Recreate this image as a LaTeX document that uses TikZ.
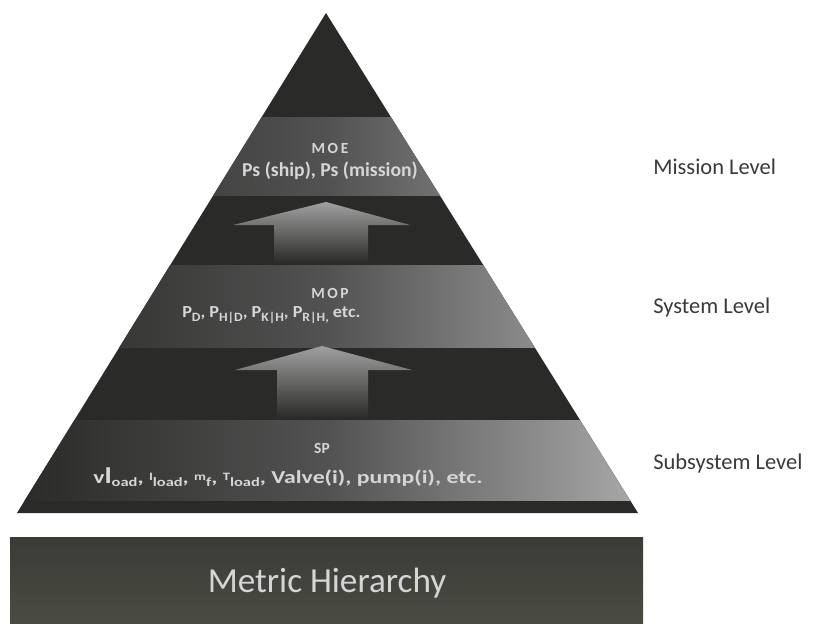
\documentclass[tikz,border=0pt]{standalone}
\usepackage{fontspec}
\setmainfont{Carlito}
\usepackage{tikz}
\usetikzlibrary{positioning, calc}

\definecolor{pyrdark}{HTML}{2A2A28}
\definecolor{bandlight}{HTML}{A8A8A8}
\definecolor{bandmid}{HTML}{525252}
\definecolor{arrowtop}{HTML}{A0A0A0}
\definecolor{boxdark}{HTML}{3A3B35}
\definecolor{boxlight}{HTML}{4A4C44}
\definecolor{inktext}{HTML}{D6D6D6}
\definecolor{leveltext}{HTML}{3A3A3A}

\tikzset{
  bandtext/.style={text=inktext, inner sep=0pt, font=\bfseries},
  leveltag/.style={text=leveltext, anchor=west, inner sep=0pt, font=\fontsize{16}{18}\selectfont},
  band/.style={left color=pyrdark, right color=bandlight, middle color=bandmid},
  uparrow/.style={top color=arrowtop, bottom color=pyrdark, draw=none}
}
\newcommand{\lowsub}[1]{\raisebox{-2.5pt}{\fontsize{9}{9}\selectfont #1}}
\newcommand{\tinyup}[1]{\raisebox{1.5pt}{\fontsize{8}{8}\selectfont #1}}

\begin{document}
\begin{tikzpicture}[x=0.025cm, y=-0.025cm]
\useasboundingbox[fill=white] (0,0) rectangle (824,624);

% Pyramid
\coordinate (apex) at (326,13);
\coordinate (baseL) at (17,513);
\coordinate (baseR) at (638,513);
\fill[pyrdark] (apex) -- (baseR) -- (baseL) -- cycle;

% Bands
\begin{scope}
\clip (apex) -- (baseR) -- (baseL) -- cycle;
\shade[band] (17,118) rectangle (638,195);
\shade[band] (17,265) rectangle (638,347);
\shade[band] (17,420) rectangle (638,500);
\end{scope}

% Arrows
\shade[uparrow] (326,202) -- (410,225) -- (368,225) -- (368,263)
  -- (274,263) -- (274,225) -- (233,225) -- cycle;
\shade[uparrow] (322,346) -- (412,370) -- (368,370) -- (368,418)
  -- (277,418) -- (277,370) -- (235,370) -- cycle;

% Band texts
\node[bandtext, font=\bfseries\fontsize{11}{12}\selectfont] (moe) at (330,148) {M\,O\,E};
\node[bandtext, font=\bfseries\fontsize{14}{16}\selectfont] (moeval) at (330,171) {Ps (ship), Ps (mission)};
\node[bandtext, font=\bfseries\fontsize{11}{12}\selectfont] (mop) at (330,293) {M\,O\,P};
\node[bandtext, anchor=west, font=\bfseries\fontsize{12}{14}\selectfont\addfontfeatures{FakeStretch=1.08}] (mopval) at (182,315)
  {P\lowsub{D}, P\lowsub{H|D}, P\lowsub{K|H}, P\lowsub{R|H,} etc.};
\node[bandtext, font=\bfseries\fontsize{11}{12}\selectfont] (sp) at (322,448) {SP};
\node[bandtext, anchor=west, font=\bfseries\fontsize{13}{14}\selectfont\addfontfeatures{FakeStretch=1.3}] (spval) at (93,477)
  {v{\fontsize{16}{16}\selectfont l}\lowsub{oad}, \tinyup{I}\lowsub{load}, \tinyup{m}\lowsub{f}, \tinyup{T}\lowsub{load}, Valve(i), pump(i), etc.};

% Levels
\node[leveltag] (mission) at (653,167) {Mission Level};
\node[leveltag] (system) at (653,308) {System Level};
\node[leveltag] (subsystem) at (653,463) {Subsystem Level};

% Title box
\shade[top color=boxdark, bottom color=boxlight] (10,537) rectangle (643,624);
\node[text=inktext, font=\fontsize{25}{28}\selectfont] (title) at (327,583) {Metric Hierarchy};
\end{tikzpicture}
\end{document}
